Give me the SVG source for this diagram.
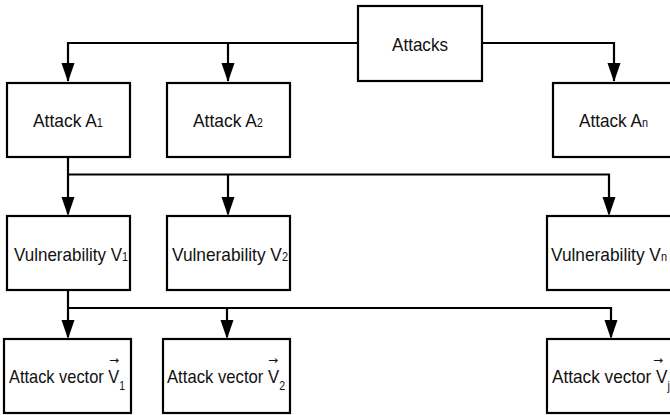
<svg xmlns="http://www.w3.org/2000/svg" width="670" height="415" viewBox="0 0 670 415">
<style>
.box{fill:#fff;stroke:#000;stroke-width:2.2}
.c{fill:none;stroke:#000;stroke-width:2.2}
.t{font-family:"Liberation Sans",Arial,sans-serif;font-size:19px;fill:#111}
.s{font-size:12px}
.ar{font-family:"DejaVu Sans",sans-serif;font-size:11px;fill:#111}
</style>
<rect width="670" height="415" fill="#fff"/>
<g id="connectors">
<path class="c" d="M358,43 H68 V81"/>
<path class="c" d="M228,43 V81"/>
<path class="c" d="M482,43 H614 V81"/>
<path class="c" d="M68,157 V214"/>
<path class="c" d="M68,174.5 H609 V214"/>
<path class="c" d="M228,174.5 V214"/>
<path class="c" d="M68,290 V337"/>
<path class="c" d="M68,308 H611 V337"/>
<path class="c" d="M227,308 V337"/>
<path d="M61.5,63 L74.5,63 L68,82 Z"/>
<path d="M221.5,63 L234.5,63 L228,82 Z"/>
<path d="M607.5,63 L620.5,63 L614,82 Z"/>
<path d="M61.5,197 L74.5,197 L68,216 Z"/>
<path d="M221.5,197 L234.5,197 L228,216 Z"/>
<path d="M602.5,197 L615.5,197 L609,216 Z"/>
<path d="M61.5,320 L74.5,320 L68,339 Z"/>
<path d="M220.5,320 L233.5,320 L227,339 Z"/>
<path d="M604.5,320 L617.5,320 L611,339 Z"/>
</g>
<g id="attacks">
<rect class="box" x="358" y="6" width="124" height="75"/>
<text class="t" x="392" y="51" textLength="56" lengthAdjust="spacingAndGlyphs">Attacks</text>
</g>
<g id="attackA1">
<rect class="box" x="7" y="83" width="123" height="74"/>
<text class="t" x="33" y="127" textLength="70" lengthAdjust="spacingAndGlyphs">Attack A<tspan class="s">1</tspan></text>
</g>
<g id="attackA2">
<rect class="box" x="167" y="83" width="123" height="74"/>
<text class="t" x="193" y="127" textLength="70" lengthAdjust="spacingAndGlyphs">Attack A<tspan class="s">2</tspan></text>
</g>
<g id="attackAn">
<rect class="box" x="553" y="83" width="122" height="74"/>
<text class="t" x="579" y="127" textLength="69" lengthAdjust="spacingAndGlyphs">Attack A<tspan class="s">n</tspan></text>
</g>
<g id="vulnV1">
<rect class="box" x="7" y="216" width="123" height="74"/>
<text class="t" x="14" y="261" textLength="114" lengthAdjust="spacingAndGlyphs">Vulnerability V<tspan class="s">1</tspan></text>
</g>
<g id="vulnV2">
<rect class="box" x="167" y="216" width="123" height="74"/>
<text class="t" x="172" y="261" textLength="116" lengthAdjust="spacingAndGlyphs">Vulnerability V<tspan class="s">2</tspan></text>
</g>
<g id="vulnVn">
<rect class="box" x="547" y="216" width="126" height="74"/>
<text class="t" x="551" y="261" textLength="116" lengthAdjust="spacingAndGlyphs">Vulnerability V<tspan class="s">n</tspan></text>
</g>
<g id="vector1">
<rect class="box" x="4" y="339" width="127" height="74"/>
<text class="t" x="9" y="383" textLength="116" lengthAdjust="spacingAndGlyphs">Attack vector V<tspan class="s" dy="7">1</tspan></text>
<text class="ar" x="109" y="364" textLength="10" lengthAdjust="spacingAndGlyphs">→</text>
</g>
<g id="vector2">
<rect class="box" x="163" y="339" width="127" height="74"/>
<text class="t" x="167" y="383" textLength="118" lengthAdjust="spacingAndGlyphs">Attack vector V<tspan class="s" dy="7">2</tspan></text>
<text class="ar" x="268" y="364" textLength="10" lengthAdjust="spacingAndGlyphs">→</text>
</g>
<g id="vectorj">
<rect class="box" x="547" y="339" width="128" height="74"/>
<text class="t" x="552" y="383" textLength="118" lengthAdjust="spacingAndGlyphs">Attack vector V<tspan class="s" dy="7">j</tspan></text>
<text class="ar" x="653" y="364" textLength="10" lengthAdjust="spacingAndGlyphs">→</text>
</g>
</svg>
